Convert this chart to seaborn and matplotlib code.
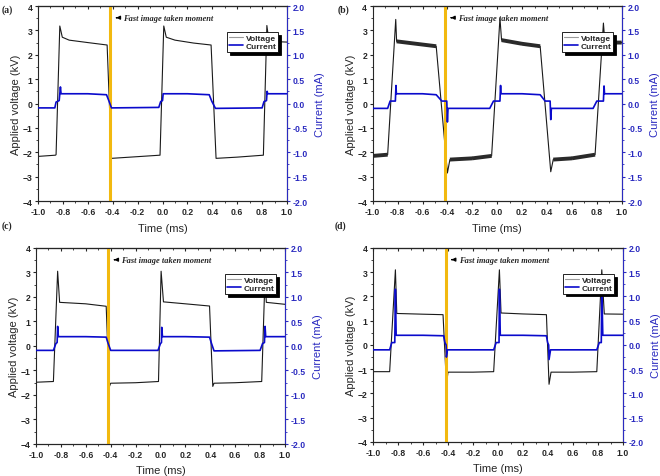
import numpy as np
import matplotlib
matplotlib.use('Agg')
import matplotlib.pyplot as plt
from matplotlib.lines import Line2D
from matplotlib.ticker import MultipleLocator, NullFormatter
import seaborn as sns

# (a)
t_volt_a = [-1.0, -0.86, -0.855, -0.825, -0.805, -0.75, -0.6, -0.445, -0.41, -0.2, -0.02, 0.01,
            0.03, 0.1, 0.25, 0.39, 0.43, 0.6, 0.81, 0.838, 0.855, 1.0]
volt_a = [-2.17, -2.12, -2.1, 3.18, 2.72, 2.6, 2.5, 2.4, -2.25, -2.18, -2.12, 3.18,
          2.72, 2.6, 2.48, 2.4, -2.25, -2.2, -2.12, 3.2, 2.55, 2.52]
t_curr_a = [-1.0, -0.865, -0.855, -0.83, -0.825, -0.82, -0.815, -0.6, -0.45, -0.43, -0.41, -0.03,
            -0.015, 0.0, 0.005, 0.2, 0.375, 0.395, 0.425, 0.8, 0.815, 0.835, 0.84, 0.845, 1.0]
curr_a = [-0.09, -0.09, 0.03, 0.06, 0.2, 0.34, 0.2, 0.2, 0.18, 0.05, -0.09, -0.08,
          0.04, 0.06, 0.2, 0.2, 0.18, 0.05, -0.1, -0.09, 0.04, 0.06, 0.25, 0.2, 0.2]

# (b)
t_volt_b = [-1.0, -0.88, -0.815, -0.808, -0.65, -0.49, -0.40, -0.38, -0.2, -0.045, 0.022, 0.035,
            0.2, 0.345, 0.43, 0.45, 0.6, 0.786, 0.853, 0.865, 1.0]
volt_b = [-2.15, -2.1, 3.45, 2.55, 2.45, 2.35, -2.85, -2.3, -2.25, -2.15, 3.5, 2.6,
          2.45, 2.35, -2.8, -2.3, -2.25, -2.1, 3.3, 2.5, 2.5]
t_curr_b = [-1.0, -0.88, -0.86, -0.818, -0.813, -0.81, -0.6, -0.49, -0.445, -0.405, -0.4, -0.395,
            -0.06, -0.03, 0.022, 0.027, 0.03, 0.2, 0.345, 0.385, 0.425, 0.43, 0.435, 0.77,
            0.8, 0.853, 0.858, 0.862, 1.0]
curr_b = [-0.1, -0.1, 0.05, 0.05, 0.37, 0.2, 0.2, 0.18, 0.05, 0.05, -0.38, -0.1,
          -0.1, 0.05, 0.05, 0.37, 0.2, 0.2, 0.18, 0.05, 0.05, -0.33, -0.1, -0.1,
          0.05, 0.05, 0.36, 0.2, 0.2]

# (c)
t_volt_c = [-1.0, -0.86, -0.826, -0.81, -0.6, -0.436, -0.412, -0.4, -0.2, -0.016, 0.005, 0.024,
            0.2, 0.394, 0.42, 0.43, 0.6, 0.813, 0.84, 0.85, 1.0]
volt_c = [-1.48, -1.45, 3.05, 1.78, 1.72, 1.62, -1.68, -1.52, -1.5, -1.45, 3.05, 1.8,
          1.72, 1.63, -1.65, -1.52, -1.5, -1.45, 2.9, 1.78, 1.7]
t_curr_c = [-1.0, -0.86, -0.84, -0.83, -0.826, -0.82, -0.6, -0.436, -0.42, -0.4, -0.02, 0.0,
            0.008, 0.01, 0.016, 0.2, 0.394, 0.41, 0.43, 0.8, 0.82, 0.835, 0.84, 0.845, 1.0]
curr_c = [-0.09, -0.09, 0.05, 0.07, 0.4, 0.19, 0.19, 0.18, 0.05, -0.09, -0.09, 0.05,
          0.07, 0.38, 0.19, 0.19, 0.18, 0.05, -0.1, -0.09, 0.05, 0.07, 0.4, 0.19, 0.19]

# (d)
t_volt_d = [-1.0, -0.867, -0.821, -0.81, -0.6, -0.44, -0.413, -0.4, -0.2, -0.035, 0.011, 0.024,
            0.2, 0.387, 0.408, 0.424, 0.6, 0.79, 0.83, 0.85, 1.0]
volt_d = [-1.1, -1.1, 3.1, 1.3, 1.27, 1.25, -1.6, -1.12, -1.12, -1.1, 3.1, 1.32,
          1.28, 1.25, -1.62, -1.12, -1.12, -1.1, 3.1, 1.28, 1.27]
t_curr_d = [-1.0, -0.867, -0.85, -0.826, -0.821, -0.815, -0.6, -0.435, -0.425, -0.415, -0.413, -0.405,
            -0.035, -0.015, 0.008, 0.011, 0.018, 0.2, 0.387, 0.397, 0.405, 0.408, 0.42, 0.79,
            0.81, 0.826, 0.83, 0.838, 1.0]
curr_d = [-0.1, -0.1, 0.05, 0.05, 1.15, 0.2, 0.2, 0.19, 0.05, 0.0, -0.25, -0.1,
          -0.1, 0.05, 0.05, 1.15, 0.2, 0.2, 0.19, 0.05, 0.0, -0.3, -0.1, -0.1,
          0.05, 0.05, 1.2, 0.2, 0.2]

panel_names = ['(a)', '(b)', '(c)', '(d)']
image_moment = -0.42
note_text = 'Fast image taken moment'
x_ticks = [-1.0, -0.8, -0.6, -0.4, -0.2, 0.0, 0.2, 0.4, 0.6, 0.8, 1.0]
v_ticks = [-4, -3, -2, -1, 0, 1, 2, 3, 4]
i_ticks = [-2.0, -1.5, -1.0, -0.5, 0.0, 0.5, 1.0, 1.5, 2.0]

panels = [
    (t_volt_a, volt_a, t_curr_a, curr_a),
    (t_volt_b, volt_b, t_curr_b, curr_b),
    (t_volt_c, volt_c, t_curr_c, curr_c),
    (t_volt_d, volt_d, t_curr_d, curr_d),
]

sns.set_style('ticks')
plt.rcParams['font.family'] = ['Liberation Sans', 'DejaVu Sans']

blue = '#0a0acc'
blue_txt = '#2b2bc0'
gold = '#f2b90f'

fig = plt.figure(figsize=(6.6, 4.77), dpi=100)
rects = [[0.0576, 0.5765, 0.3773, 0.4088],
         [0.5647, 0.5765, 0.3773, 0.4088],
         [0.0545, 0.0671, 0.3773, 0.4110],
         [0.5652, 0.0713, 0.3788, 0.4067]]
label_pos = [(0.003, 0.979), (0.511, 0.979), (0.003, 0.526), (0.507, 0.526)]

for k, (tv, v, tc, c) in enumerate(panels):
    ax = fig.add_axes(rects[k])
    ax2 = ax.twinx()

    sns.lineplot(x=tv, y=v, ax=ax, color='#1a1a1a', linewidth=0.8,
                 estimator=None, sort=False)
    if k == 1:
        # noisy plateaus in (b): thicker band on the flat parts only
        tv_arr = np.array(tv)
        v_arr = np.array(v)
        slope = np.abs(np.diff(v_arr) / np.diff(tv_arr))
        xs, ys = [], []
        for i in np.where(slope < 5)[0]:
            xs += [tv_arr[i], tv_arr[i + 1], np.nan]
            ys += [v_arr[i], v_arr[i + 1], np.nan]
        ax.plot(xs, ys, color='#2a2a2a', linewidth=2.8, solid_capstyle='butt')

    sns.lineplot(x=tc, y=c, ax=ax2, color=blue, linewidth=1.2,
                 estimator=None, sort=False)

    ax.axvline(image_moment, color=gold, linewidth=2.2, zorder=5)

    ax.set_xlim(-1.0, 1.0)
    ax.set_ylim(-4, 4)
    ax2.set_ylim(-2.0, 2.0)
    ax.set_xticks(x_ticks)
    ax.set_xticklabels([f'{x:.1f}' for x in x_ticks])
    ax.xaxis.set_minor_locator(MultipleLocator(0.1))
    ax.set_yticks(v_ticks)
    ax.yaxis.set_minor_locator(MultipleLocator(0.5))
    ax2.set_yticks(i_ticks)
    ax2.set_yticklabels([f'{y:.1f}' for y in i_ticks])
    ax2.yaxis.set_minor_locator(MultipleLocator(0.25))

    ax.tick_params(axis='both', which='both', direction='out', labelsize=6.2)
    ax.tick_params(which='major', length=2.5, width=0.8, pad=1.5)
    ax.tick_params(which='minor', length=1.3, width=0.6)
    ax2.tick_params(axis='y', which='both', direction='out', colors=blue_txt, labelsize=6.2)
    ax2.tick_params(which='major', length=2.5, width=0.8, pad=1.5)
    ax2.tick_params(which='minor', length=1.3, width=0.6)
    for lab in ax.get_xticklabels() + ax.get_yticklabels() + ax2.get_yticklabels():
        lab.set_fontweight('bold')

    # inward ticks along the top edge
    top = ax.secondary_xaxis('top')
    top.set_xticks(x_ticks)
    top.xaxis.set_minor_locator(MultipleLocator(0.1))
    top.xaxis.set_major_formatter(NullFormatter())
    top.tick_params(which='both', direction='in', labeltop=False)
    top.tick_params(which='major', length=2.5, width=0.8)
    top.tick_params(which='minor', length=1.3, width=0.6)
    top.spines['top'].set_linewidth(0.8)

    ax2.spines['right'].set_color(blue_txt)
    ax2.spines['left'].set_visible(False)
    for s in ['top', 'bottom', 'left']:
        ax.spines[s].set_linewidth(0.8)
    ax2.spines['right'].set_linewidth(0.8)

    ax.set_xlabel('Time (ms)', fontsize=8, labelpad=5)
    ax.set_ylabel('Applied voltage (kV)', fontsize=8, labelpad=1)
    ax2.set_ylabel('Current (mA)', fontsize=8, color=blue_txt, labelpad=5.5)

    ax.annotate('', xy=(image_moment + 0.025, 3.52), xytext=(image_moment + 0.075, 3.52),
                arrowprops=dict(arrowstyle='-|>', color='black', lw=1.0, mutation_scale=5),
                zorder=6)
    ax.text(image_moment + 0.105, 3.52, note_text, fontsize=6, fontweight='bold',
            fontstyle='italic', family=['Liberation Serif', 'DejaVu Serif'],
            va='center', ha='left', zorder=6)

    handles = [Line2D([], [], color='#9a9a9a', linewidth=0.8),
               Line2D([], [], color=blue, linewidth=1.2)]
    leg = ax2.legend(handles, ['Voltage', 'Current'], loc='upper right',
                     bbox_to_anchor=(0.965, 0.865), prop={'size': 6, 'weight': 'bold'},
                     frameon=True, fancybox=False,
                     shadow={'color': 'black', 'alpha': 1.0}, framealpha=1,
                     edgecolor='black', borderpad=0.2, labelspacing=0.05,
                     handlelength=1.7, handletextpad=0.3, borderaxespad=0)
    leg.get_frame().set_linewidth(0.6)

    fig.text(label_pos[k][0], label_pos[k][1], panel_names[k], fontsize=7,
             fontweight='bold', family=['Liberation Serif', 'DejaVu Serif'],
             va='center', ha='left')

fig.savefig('out.png', dpi=100)
